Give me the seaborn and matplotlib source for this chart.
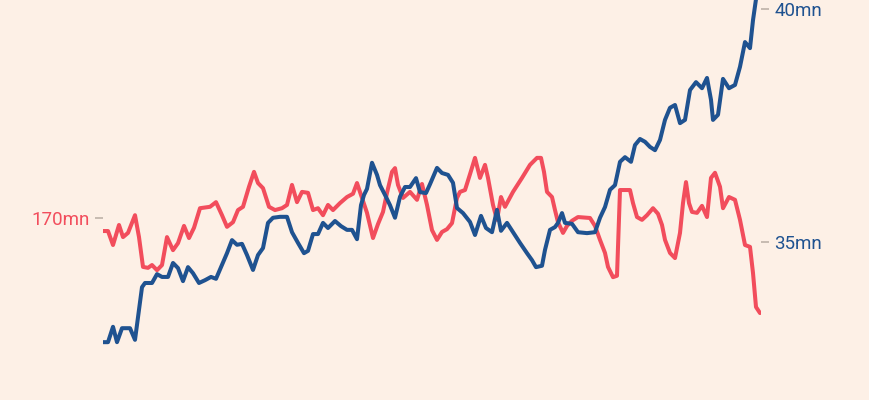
"""
Two-series line chart on twin y axes (red: left axis, blue: right axis).
Saves out.png at 870x400.
"""

import matplotlib.pyplot as plt
import pandas as pd
import seaborn as sns

# ---- data ---------------------------------------------------------------
# period index (same time scale for both series)
blue_t = [0, 5, 10, 14, 19, 27, 32, 36, 39, 42, 49, 54, 59, 65, 70, 75, 80, 85, 90, 96,
          102, 108, 113, 119, 124, 129, 134, 139, 144, 150, 155, 160, 165, 170, 177, 184,
          189, 195, 201, 205, 210, 215, 220, 225, 232, 238, 244, 249, 254, 258, 261, 264,
          269, 274, 277, 282, 287, 292, 297, 302, 307, 313, 317, 323, 327, 334, 339, 345,
          350, 354, 360, 367, 372, 378, 383, 389, 394, 398, 404, 410, 417, 424, 429, 433,
          439, 442, 447, 452, 455, 459, 462, 469, 475, 484, 492, 497, 502, 507, 512, 517,
          522, 528, 532, 537, 542, 547, 552, 557, 562, 567, 572, 577, 582, 587, 593, 599,
          604, 608, 610, 615, 620, 626, 632, 637, 642, 647, 650, 654]
blue_mn = [32.85, 32.85, 33.18, 32.85, 33.15, 33.15, 32.90, 33.54, 34.03, 34.12, 34.12,
           34.31, 34.25, 34.25, 34.55, 34.44, 34.16, 34.46, 34.33, 34.12, 34.18, 34.25,
           34.21, 34.51, 34.76, 35.04, 34.94, 34.96, 34.72, 34.40, 34.72, 34.87, 35.41,
           35.52, 35.54, 35.54, 35.21, 34.98, 34.76, 34.81, 35.17, 35.17, 35.41, 35.30,
           35.45, 35.34, 35.26, 35.26, 35.06, 35.79, 36.01, 36.14, 36.70, 36.44, 36.22,
           36.01, 35.79, 35.52, 35.97, 36.18, 36.18, 36.37, 36.07, 36.05, 36.24, 36.59,
           36.48, 36.44, 36.27, 35.73, 35.62, 35.43, 35.15, 35.56, 35.30, 35.21, 35.69,
           35.24, 35.41, 35.21, 34.98, 34.76, 34.61, 34.46, 34.49, 34.83, 35.26, 35.32,
           35.41, 35.62, 35.41, 35.39, 35.21, 35.19, 35.21, 35.52, 35.75, 36.12, 36.22,
           36.72, 36.82, 36.72, 37.08, 37.21, 37.15, 37.04, 36.97, 37.19, 37.62, 37.88,
           37.94, 37.55, 37.62, 38.26, 38.43, 38.30, 38.52, 38.05, 37.62, 37.73, 38.50,
           38.30, 38.37, 38.76, 39.29, 39.16, 39.76, 40.36]

red_t = [0, 5, 10, 16, 20, 25, 32, 36, 40, 45, 49, 54, 59, 64, 70, 75, 81, 86, 91, 97,
         107, 113, 119, 124, 130, 135, 140, 146, 151, 155, 160, 166, 172, 179, 184, 189,
         194, 199, 205, 210, 215, 220, 225, 230, 237, 244, 250, 254, 259, 264, 270, 275,
         280, 284, 289, 292, 295, 300, 307, 314, 319, 324, 329, 334, 339, 344, 349, 354,
         357, 362, 367, 372, 377, 382, 385, 390, 394, 398, 402, 410, 419, 427, 434, 438,
         441, 444, 449, 452, 455, 460, 464, 469, 475, 487, 492, 497, 502, 505, 510, 514,
         517, 522, 527, 530, 534, 539, 544, 550, 555, 559, 562, 567, 572, 577, 580, 583,
         586, 589, 594, 599, 604, 608, 612, 617, 620, 626, 632, 637, 642, 647, 650, 653, 657]
red_mn = [169.72, 169.72, 169.42, 169.85, 169.59, 169.68, 170.06, 169.59, 168.95, 168.93,
          168.99, 168.88, 168.99, 169.59, 169.31, 169.46, 169.83, 169.57, 169.79, 170.21,
          170.24, 170.34, 170.06, 169.81, 169.91, 170.17, 170.24, 170.67, 170.99, 170.75,
          170.64, 170.24, 170.17, 170.21, 170.28, 170.71, 170.34, 170.56, 170.54, 170.17,
          170.21, 170.06, 170.28, 170.17, 170.32, 170.45, 170.52, 170.75, 170.43, 170.11,
          169.57, 169.87, 170.13, 170.54, 170.99, 171.07, 170.71, 170.43, 170.56, 170.39,
          170.73, 170.28, 169.74, 169.53, 169.70, 169.76, 169.89, 170.43, 170.56, 170.60,
          170.94, 171.29, 170.86, 171.14, 170.86, 170.28, 169.96, 170.45, 170.24, 170.56,
          170.86, 171.14, 171.29, 171.29, 170.99, 170.56, 170.45, 170.17, 169.91, 169.68,
          169.83, 169.94, 170.02, 170.00, 169.83, 169.53, 169.25, 168.95, 168.73, 168.76,
          170.60, 170.60, 170.60, 170.32, 170.02, 169.96, 170.06, 170.21, 170.09, 169.85,
          169.53, 169.25, 169.14, 169.68, 170.32, 170.77, 170.32, 170.13, 170.11, 170.26,
          170.02, 170.86, 170.97, 170.67, 170.21, 170.45, 170.39, 169.96, 169.42, 169.38,
          168.82, 168.09, 167.96]

red_ticks = [170]
red_tick_labels = ["170mn"]
blue_ticks = [35, 40]
blue_tick_labels = ["35mn", "40mn"]

# ---- style --------------------------------------------------------------
BG = "#FDF0E6"
RED = "#F24D5C"
BLUE = "#1F5290"
TICK = "#B8ADA3"

sns.set_style("white")
plt.rcParams["font.family"] = ["Roboto", "DejaVu Sans"]

red_df = pd.DataFrame({"t": red_t, "value": red_mn})
blue_df = pd.DataFrame({"t": blue_t, "value": blue_mn})

fig = plt.figure(figsize=(8.7, 4.0), dpi=100, facecolor=BG)
ax = fig.add_axes([103 / 870, 0.0, 658 / 870, 1.0])
ax.set_facecolor(BG)
ax2 = ax.twinx()

sns.lineplot(data=red_df, x="t", y="value", ax=ax, color=RED, linewidth=2.9,
             solid_joinstyle="round", solid_capstyle="round")
sns.lineplot(data=blue_df, x="t", y="value", ax=ax2, color=BLUE, linewidth=2.9,
             solid_joinstyle="round", solid_capstyle="round")

ax.set_xlim(0, 658)
ax.set_ylim(166.094, 174.678)
ax2.set_ylim(31.609, 40.193)

for a in (ax, ax2):
    for s in a.spines.values():
        s.set_visible(False)
    a.set_xlabel("")
    a.set_ylabel("")
    a.set_xticks([])

ax.set_yticks(red_ticks)
ax.set_yticklabels(red_tick_labels)
ax.tick_params(axis="y", length=5.5, width=1.1, color=TICK, pad=4,
               labelsize=13.5, labelcolor=RED)
ax2.set_yticks(blue_ticks)
ax2.set_yticklabels(blue_tick_labels)
ax2.tick_params(axis="y", length=5.5, width=1.1, color=TICK, pad=4,
                labelsize=13.5, labelcolor=BLUE)

fig.savefig("out.png", dpi=100, facecolor=BG)
plt.close(fig)
